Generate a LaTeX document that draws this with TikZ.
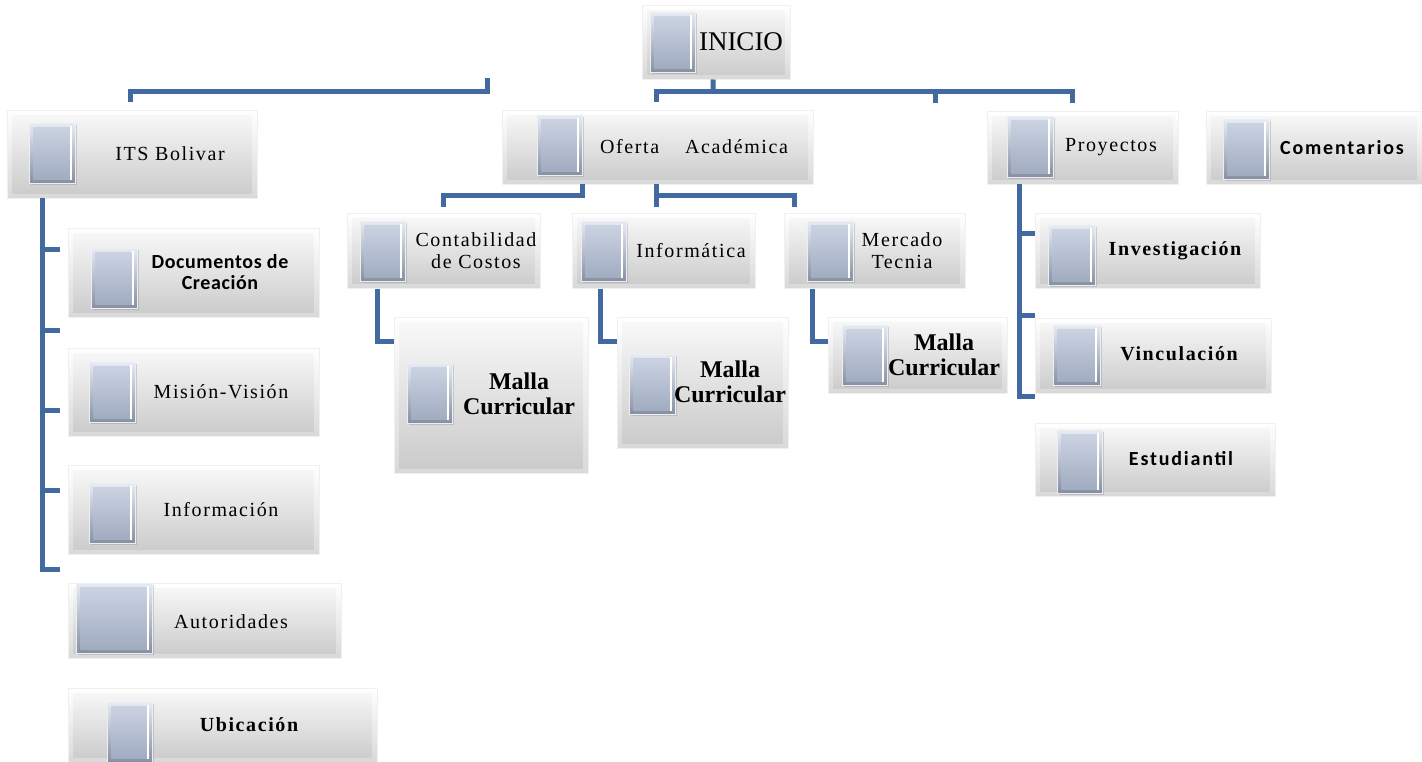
\documentclass[tikz,border=0pt]{standalone}
\usepackage{fontspec}
\newfontfamily\serifesp[LetterSpace=8]{Liberation Serif}
\newfontfamily\seriflisa{Liberation Serif}
\newfontfamily\calibesp[LetterSpace=9]{Carlito}
\newfontfamily\caliblisa[LetterSpace=3]{Carlito}
\usepackage{tikz}
\usetikzlibrary{shadows}
\definecolor{azul}{RGB}{66,106,160}
\definecolor{cuadroA}{RGB}{206,214,229}
\definecolor{cuadroB}{RGB}{158,169,190}

\tikzset{
  caja/.style={rectangle, anchor=north west, inner sep=0pt, draw=gray!12, line width=0.5pt,
    top color=white, bottom color=gray!30,
    path picture={\shade[top color=gray!4, bottom color=gray!42]
      ([shift={(5pt,-5pt)}]path picture bounding box.north west) rectangle
      ([shift={(-6pt,5pt)}]path picture bounding box.south east);}},
  cuadro/.style={rectangle, anchor=north west, inner sep=0pt, minimum width=45pt, minimum height=60pt,
    top color=cuadroA!50!white, bottom color=cuadroB!85!black, draw=white!60!cuadroA, line width=0.5pt,
    drop shadow={shadow xshift=1.5pt, shadow yshift=-2pt, opacity=0.3},
    path picture={\shade[top color=cuadroA, bottom color=cuadroB]
      ([shift={(4pt,-4pt)}]path picture bounding box.north west) rectangle
      ([shift={(-5pt,4pt)}]path picture bounding box.south east);
      \draw[white, line width=1.5pt]
      ([shift={(-4.5pt,-3pt)}]path picture bounding box.north east) --
      ([shift={(-4.5pt,3pt)}]path picture bounding box.south east);}},
  enlace/.style={draw=azul, line width=5pt},
  texto/.style={font=\serifesp\fontsize{20}{22}\selectfont, align=center, inner sep=0pt},
  negrita/.style={font=\serifesp\bfseries\fontsize{20}{22}\selectfont, align=center, inner sep=0pt},
  malla/.style={font=\seriflisa\bfseries\fontsize{24}{25}\selectfont, align=center, inner sep=0pt},
  calib/.style={font=\calibesp\bfseries\fontsize{20}{21}\selectfont, align=center, inner sep=0pt},
}

\begin{document}
\begin{tikzpicture}[x=1pt,y=-1pt]
\useasboundingbox (0,0) rectangle (1422,762);

% cajas
\node[caja, minimum width=148pt, minimum height=74pt] (inicio) at (642,5) {};
\node[caja, minimum width=250pt, minimum height=88pt] (its) at (7,110) {};
\node[caja, minimum width=251pt, minimum height=89pt] (doc) at (68,228) {};
\node[caja, minimum width=251pt, minimum height=88pt] (mision) at (68,348) {};
\node[caja, minimum width=251pt, minimum height=89pt] (info) at (68,465) {};
\node[caja, minimum width=273pt, minimum height=75pt] (autor) at (68,583) {};
\node[caja, minimum width=309pt, minimum height=74pt] (ubic) at (68,688) {};
\node[caja, minimum width=311pt, minimum height=74pt] (oferta) at (502,110) {};
\node[caja, minimum width=193pt, minimum height=75pt] (conta) at (347,213) {};
\node[caja, minimum width=183pt, minimum height=75pt] (infor) at (572,213) {};
\node[caja, minimum width=181pt, minimum height=75pt] (merc) at (784,213) {};
\node[caja, minimum width=194pt, minimum height=156pt] (malla1) at (394,317) {};
\node[caja, minimum width=171pt, minimum height=131pt] (malla2) at (617,317) {};
\node[caja, minimum width=179pt, minimum height=76pt] (malla3) at (828,317) {};
\node[caja, minimum width=191pt, minimum height=73pt] (proy) at (987,111) {};
\node[caja, minimum width=216pt, minimum height=73pt] (coment) at (1206,111) {};
\node[caja, minimum width=225pt, minimum height=75pt] (invest) at (1035,213) {};
\node[caja, minimum width=236pt, minimum height=75pt] (vinc) at (1035,318) {};
\node[caja, minimum width=240pt, minimum height=73pt] (estud) at (1035,423) {};

% cuadros
\node[cuadro] (inicio-c) at (650,12) {};
\node[cuadro, minimum width=46pt] (its-c) at (29,123) {};
\node[cuadro, minimum width=46pt] (doc-c) at (91,248) {};
\node[cuadro, minimum width=46pt] (mision-c) at (89,362) {};
\node[cuadro, minimum width=46pt] (info-c) at (89,483) {};
\node[cuadro, minimum width=76pt, minimum height=70pt] (autor-c) at (76,583) {};
\node[cuadro] (ubic-c) at (107,702) {};
\node[cuadro] (oferta-c) at (537,115) {};
\node[cuadro] (conta-c) at (360,221) {};
\node[cuadro] (infor-c) at (581,221) {};
\node[cuadro, minimum width=46pt] (merc-c) at (807,221) {};
\node[cuadro] (malla1-c) at (407,363) {};
\node[cuadro, minimum width=46pt] (malla2-c) at (629,354) {};
\node[cuadro] (malla3-c) at (842,325) {};
\node[cuadro, minimum width=46pt, minimum height=61pt] (proy-c) at (1007,116) {};
\node[cuadro, minimum width=46pt] (coment-c) at (1223,119) {};
\node[cuadro, minimum width=47pt] (invest-c) at (1048,225) {};
\node[cuadro, minimum width=47pt] (vinc-c) at (1053,325) {};
\node[cuadro, minimum height=63pt] (estud-c) at (1057,430) {};

% textos
\node[font=\seriflisa\fontsize{27}{30}\selectfont, inner sep=0pt] (inicio-t) at (741,42) {INICIO};
\node[texto] (its-t) at (170,154) {ITS Bolivar};
\node[font=\caliblisa\bfseries\fontsize{20}{21}\selectfont, align=center, inner sep=0pt] (doc-t) at (220,272) {Documentos de\\Creación};
\node[texto] (mision-t) at (221,392) {Misión-Visión};
\node[texto] (info-t) at (221,510) {Información};
\node[texto] (autor-t) at (231,622) {Autoridades};
\node[negrita] (ubic-t) at (249,725) {Ubicación};
\node[texto] (oferta-t) at (694,147) {Oferta\hspace{26pt}Académica};
\node[texto] (conta-t) at (476,251) {Contabilidad\\de Costos};
\node[texto] (infor-t) at (691,251) {Informática};
\node[texto] (merc-t) at (902,251) {Mercado\\Tecnia};
\node[malla] (malla1-t) at (519,394) {Malla\\Curricular};
\node[malla] (malla2-t) at (730,382) {Malla\\Curricular};
\node[malla] (malla3-t) at (944,355) {Malla\\Curricular};
\node[texto] (proy-t) at (1111,147) {Proyectos};
\node[calib] (coment-t) at (1342,148) {Comentarios};
\node[negrita] (invest-t) at (1175,251) {Investigación};
\node[negrita] (vinc-t) at (1179,354) {Vinculación};
\node[calib] (estud-t) at (1181,459) {Estudiantil};

% enlaces de INICIO
\coordinate (barra) at (713,92);
\coordinate (gota) at (935,103);
\coordinate (suelto) at (487,78);
\draw[enlace] ([xshift=-3pt]inicio.south) -- (barra);
\draw[enlace] ([xshift=-1.5pt,yshift=8pt]oferta.north) |- (barra) -| ([xshift=-10pt,yshift=8pt]proy.north);
\draw[enlace] (gota) -- (gota |- barra);
\draw[enlace] ([xshift=-2pt,yshift=8pt]its.north) |- (suelto |- barra) -- (suelto);

% ITS Bolivar
\coordinate (tronco) at ([xshift=35pt]its.south west);
\foreach \y [count=\i] in {250,330,410,490,569}
  \coordinate (ti\i) at (60,\y);
\draw[enlace] (tronco) |- (ti5);
\foreach \i in {1,...,4}
  \draw[enlace] (tronco |- ti\i) -- (ti\i);

% Oferta Academica
\coordinate (ofi) at ([xshift=80pt]oferta.south west);
\coordinate (ofc) at ([xshift=-1.5pt]oferta.south);
\draw[enlace] (ofi) -- ++(0,11) -| ([yshift=6pt]conta.north);
\draw[enlace] (ofc) -- ++(0,23);
\draw[enlace] (ofc) ++(0,11) -| ([xshift=10pt,yshift=6pt]merc.north west);
\draw[enlace] ([xshift=30pt]conta.south west) |- ([yshift=-24pt]malla1.north west);
\draw[enlace] ([xshift=28pt]infor.south west) |- ([yshift=-24pt]malla2.north west);
\draw[enlace] ([xshift=28pt]merc.south west) |- ([yshift=-24pt]malla3.north west);

% Proyectos
\coordinate (tp) at ([xshift=32pt]proy.south west);
\coordinate (tp1) at ([yshift=-21pt]invest.north west);
\coordinate (tp2) at ([yshift=3pt]vinc.north west);
\coordinate (tp3) at ([yshift=-3pt]vinc.south west);
\draw[enlace] (tp) |- (tp3);
\draw[enlace] (tp |- tp1) -- (tp1);
\draw[enlace] (tp |- tp2) -- (tp2);
\end{tikzpicture}
\end{document}
